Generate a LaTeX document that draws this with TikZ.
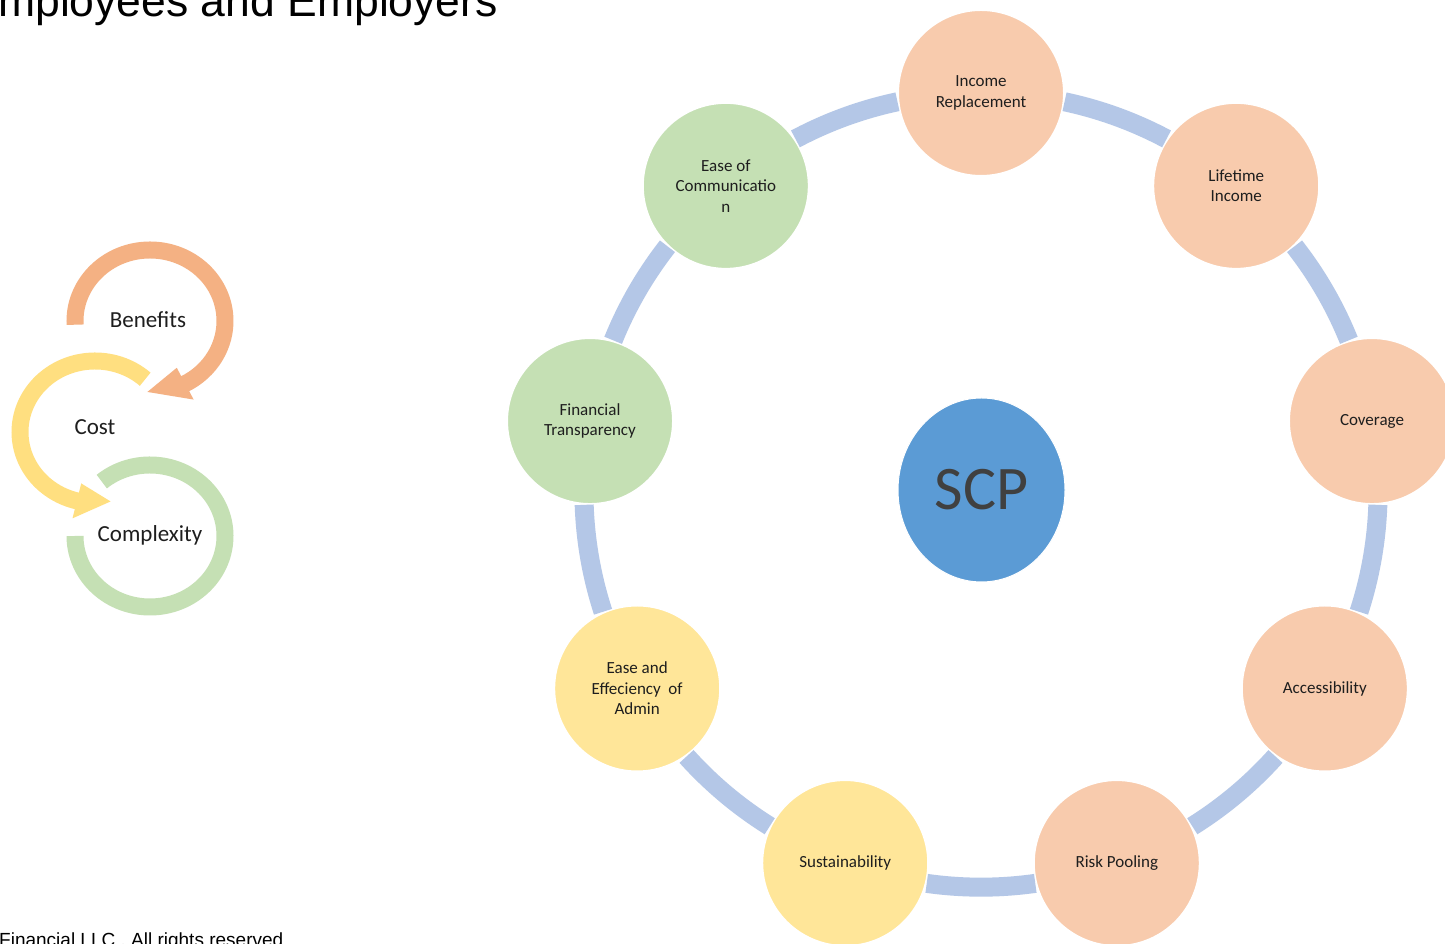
\documentclass[tikz,border=0pt]{standalone}
\usepackage{fontspec}
\setmainfont{Carlito}
\newfontfamily\arialfont{Liberation Sans}
\usetikzlibrary{shapes.geometric,calc}
\definecolor{peachc}{HTML}{F8CBAD}
\definecolor{greenc}{HTML}{C5E0B4}
\definecolor{yellowc}{HTML}{FFE699}
\definecolor{scpc}{HTML}{5B9BD5}
\definecolor{scptext}{HTML}{404040}
\definecolor{connc}{HTML}{B4C7E7}
\definecolor{txtc}{HTML}{1E1E1E}
\definecolor{benc}{HTML}{F4B183}
\definecolor{costc}{HTML}{FFDF80}
\definecolor{cmplc}{HTML}{C5E0B4}
\tikzset{
  ringnode/.style={circle, minimum size=166pt, inner sep=0pt, draw=white, line width=2pt,
    align=center, text=txtc, font=\fontsize{17}{20.5}\selectfont},
  peach/.style={ringnode, fill=peachc},
  greenn/.style={ringnode, fill=greenc},
  yellown/.style={ringnode, fill=yellowc},
  conn/.style={draw=connc, line width=19pt, looseness=0.86},
  cyclelabel/.style={inner sep=0pt, text=txtc, font=\fontsize{23}{23}\selectfont},
  cyclearc/.style={line width=17pt}
}
\begin{document}
\begin{tikzpicture}[x=1pt,y=1pt]
\useasboundingbox (0,0) rectangle (1445,944);
\fill[white] (0,0) rectangle (1445,944);

% title and footer (cut by the page edge)
\node[anchor=base west, inner sep=0pt, font=\arialfont\fontsize{44.5}{44.5}\selectfont] (title) at (-2,927) {mployees and Employers};
\node[anchor=base west, inner sep=0pt, font=\arialfont\fontsize{19}{19}\selectfont] (footer) at (-1,-2.5) {Financial LLC . All rights reserved};

% left cycle
\coordinate (bc) at (150,623);
\coordinate (cc) at (95,512);
\coordinate (kc) at (150,408);
\draw[cyclearc, draw=benc] ($(bc)+(183:75 and 71)$) arc[start angle=183, end angle=-63, x radius=75, y radius=71];
\fill[benc] ($(bc)+(-62:93 and 89)$) -- ($(bc)+(-92:75 and 71)$) -- ($(bc)+(-62:57 and 53)$) -- cycle;
\draw[cyclearc, draw=costc] ($(cc)+(48:75 and 71)$) arc[start angle=48, end angle=257, x radius=75, y radius=71];
\fill[costc] ($(cc)+(256:93 and 89)$) -- ($(cc)+(282:75 and 71)$) -- ($(cc)+(256:57 and 53)$) -- cycle;
\draw[cyclearc, draw=cmplc] ($(kc)+(130:75 and 71)$) arc[start angle=130, end angle=-180, x radius=75, y radius=71];
\node[cyclelabel] (benefits) at (148,624) {Benefits};
\node[cyclelabel] (cost) at (95,517) {Cost};
\node[cyclelabel] (complexity) at (150,409) {Complexity};

% ring
\coordinate (c) at (981,454);
\node[peach] (IR) at ($(c)+(90:397)$) {Income\\Replacement};
\node[peach] (LI) at ($(c)+(50:397)$) {Lifetime\\Income};
\node[peach] (CV) at ($(c)+(10:397)$) {Coverage};
\node[peach] (AC) at ($(c)+(-30:397)$) {Accessibility};
\node[peach] (RP) at ($(c)+(-70:397)$) {Risk Pooling};
\node[yellown] (SU) at ($(c)+(-110:397)$) {Sustainability};
\node[yellown] (EA) at ($(c)+(-150:397)$) {Ease and\\Effeciency\ \ of\\Admin};
\node[greenn] (FT) at ($(c)+(170:397)$) {Financial\\Transparency};
\node[greenn] (EC) at ($(c)+(130:397)$) {Ease of\\Communicatio\\n};

\node[ellipse, minimum width=167pt, minimum height=184pt, inner sep=0pt, fill=scpc, draw=white, line width=1pt,
  text=scptext, font=\fontsize{62}{62}\selectfont] (SCP) at (981.5,454) {SCP};

\draw[conn] (IR.-6) to[bend left=8] (LI.146);
\draw[conn] (LI.-46) to[bend left=8] (CV.106);
\draw[conn] (CV.-86) to[bend left=8] (AC.66);
\draw[conn] (AC.-126) to[bend left=8] (RP.26);
\draw[conn] (RP.-166) to[bend left=8] (SU.-14);
\draw[conn] (SU.154) to[bend left=8] (EA.-54);
\draw[conn] (EA.114) to[bend left=8] (FT.-94);
\draw[conn] (FT.74) to[bend left=8] (EC.226);
\draw[conn] (EC.34) to[bend left=8] (IR.186);
\end{tikzpicture}
\end{document}
